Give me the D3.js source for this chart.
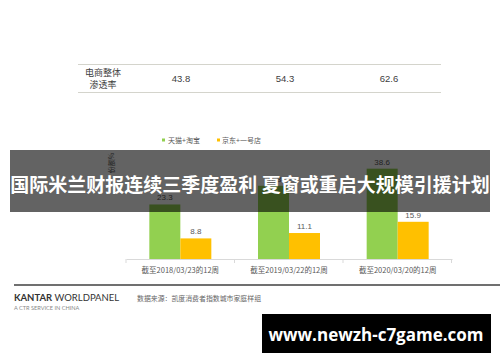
<!DOCTYPE html>
<html>
<head>
<meta charset="utf-8">
<script src="https://cdn.jsdelivr.net/npm/d3@7"></script>
<style>
  body { margin: 0; background: #fff; }
  svg { display: block; font-family: "Noto Sans CJK SC", "Noto Sans", sans-serif; }
</style>
</head>
<body>
<div id="chart"></div>
<script>
// values
const periods = ["截至2018/03/23的12周", "截至2019/03/22的12周", "截至2020/03/20的12周"];
const seriesNames = ["天猫+淘宝", "京东+一号店"];
const tmall = [23.3, 31.3, 38.6];
const jd = [8.8, 11.1, 15.9];
const penetration = [43.8, 54.3, 62.6];
const colors = ["#92d050", "#ffc000"];

const width = 500, height = 362;

const svg = d3.select("#chart").append("svg")
    .attr("width", width)
    .attr("height", height);

// table on top
const tableX = d3.scaleBand().domain(periods).range([129, 441]);
svg.append("line").attr("x1", 78).attr("x2", 441).attr("y1", 64.5).attr("y2", 64.5)
    .attr("stroke", "#d4d4cc").attr("stroke-width", 1);
svg.append("line").attr("x1", 78).attr("x2", 441).attr("y1", 92.5).attr("y2", 92.5)
    .attr("stroke", "#d4d4cc").attr("stroke-width", 1);
svg.append("text").attr("x", 103).attr("y", 76).attr("text-anchor", "middle")
    .attr("font-size", 9).attr("fill", "#404040").text("电商整体");
svg.append("text").attr("x", 103).attr("y", 88).attr("text-anchor", "middle")
    .attr("font-size", 9).attr("fill", "#404040").text("渗透率");
svg.selectAll(".pen").data(penetration).enter().append("text")
    .attr("class", "pen")
    .attr("x", (d, i) => tableX(periods[i]) + tableX.bandwidth() / 2)
    .attr("y", 82)
    .attr("text-anchor", "middle")
    .attr("font-size", 9.5)
    .attr("font-family", "Liberation Sans, Arial, sans-serif")
    .attr("fill", "#404040")
    .text(d => d.toFixed(1));

// legend
const legend = svg.append("g");
[[162, 168], [217, 222]].forEach((p, i) => {
    legend.append("rect").attr("x", p[0]).attr("y", 138.5).attr("width", 3).attr("height", 3)
        .attr("fill", colors[i]);
    legend.append("text").attr("x", p[1]).attr("y", 143).attr("font-size", 7)
        .attr("fill", "#595959").text(seriesNames[i]);
});

// bar chart
const x = d3.scaleBand().domain(periods).range([126, 452]);
const xSub = d3.scaleBand().domain([0, 1])
    .range([x.bandwidth() / 2 - 31, x.bandwidth() / 2 + 31]);
const y = d3.scaleLinear().domain([0, 45]).range([259, 259 - 45 * 2.34]);

const groups = svg.selectAll(".grp").data(periods).enter().append("g")
    .attr("class", "grp")
    .attr("transform", d => "translate(" + x(d) + ",0)");

const barData = (d, i) => [tmall[i], jd[i]];

groups.selectAll("rect").data(barData).enter().append("rect")
    .attr("x", (d, j) => xSub(j))
    .attr("width", xSub.bandwidth())
    .attr("y", d => y(d))
    .attr("height", d => y(0) - y(d))
    .attr("fill", (d, j) => colors[j]);

groups.selectAll(".lbl").data(barData).enter().append("text")
    .attr("class", "lbl")
    .attr("x", (d, j) => xSub(j) + xSub.bandwidth() / 2)
    .attr("y", d => y(d) - 4)
    .attr("text-anchor", "middle")
    .attr("font-size", 8)
    .attr("font-family", "Liberation Sans, Arial, sans-serif")
    .attr("fill", "#595959")
    .text(d => d.toFixed(1));

// x axis
const xAxis = d3.axisBottom(x).tickSize(0).tickPadding(9);
const xg = svg.append("g").attr("transform", "translate(0,259)").call(xAxis);
xg.select(".domain").attr("stroke", "#d9d9d9");
xg.selectAll(".tick text").attr("font-size", 7.5).attr("fill", "#595959")
    .attr("font-family", "Noto Sans CJK SC, sans-serif");
[126, 234.5, 343, 451.5].forEach(v => {
    xg.append("line").attr("x1", v).attr("x2", v).attr("y1", 0).attr("y2", 4)
        .attr("stroke", "#d9d9d9");
});

// y title
svg.append("text")
    .attr("transform", "translate(114,163) rotate(-90)")
    .attr("text-anchor", "middle")
    .attr("font-size", 7)
    .attr("fill", "#595959")
    .text("份额%");

// footer
svg.append("line").attr("x1", 14).attr("x2", 500).attr("y1", 285).attr("y2", 285)
    .attr("stroke", "#404040").attr("stroke-width", 1.5);
const k = svg.append("text").attr("x", 14).attr("y", 301).attr("font-size", 9.5)
    .attr("font-family", "Lato, sans-serif").attr("fill", "#333");
k.append("tspan").attr("font-weight", "bold").text("KANTAR");
k.append("tspan").text(" WORLDPANEL");
svg.append("text").attr("x", 14).attr("y", 310).attr("font-size", 5.6)
    .attr("font-family", "Lato, sans-serif").attr("fill", "#888")
    .text("A CTR SERVICE IN CHINA");
svg.append("text").attr("x", 137).attr("y", 300.5).attr("font-size", 6.9)
    .attr("fill", "#666").text("数据来源：凯度消费者指数城市家庭样组");

// overlay banner
svg.append("rect").attr("x", 10).attr("y", 150).attr("width", 480).attr("height", 62)
    .attr("fill", "#000").attr("opacity", 0.61);
svg.append("text").attr("x", 250).attr("y", 183)
    .attr("text-anchor", "middle")
    .attr("dominant-baseline", "central")
    .attr("font-size", 19)
    .attr("font-weight", "bold")
    .attr("fill", "#fff")
    .text("国际米兰财报连续三季度盈利 夏窗或重启大规模引援计划");

// watermark box
svg.append("rect").attr("x", 262).attr("y", 314).attr("width", 229).attr("height", 39)
    .attr("fill", "#000");
svg.append("text").attr("x", 376).attr("y", 334)
    .attr("text-anchor", "middle")
    .attr("dominant-baseline", "central")
    .attr("font-size", 17)
    .attr("font-weight", "bold")
    .attr("font-family", "Open Sans, sans-serif")
    .attr("fill", "#fff")
    .text("www.newzh-c7game.com");
</script>
</body>
</html>
